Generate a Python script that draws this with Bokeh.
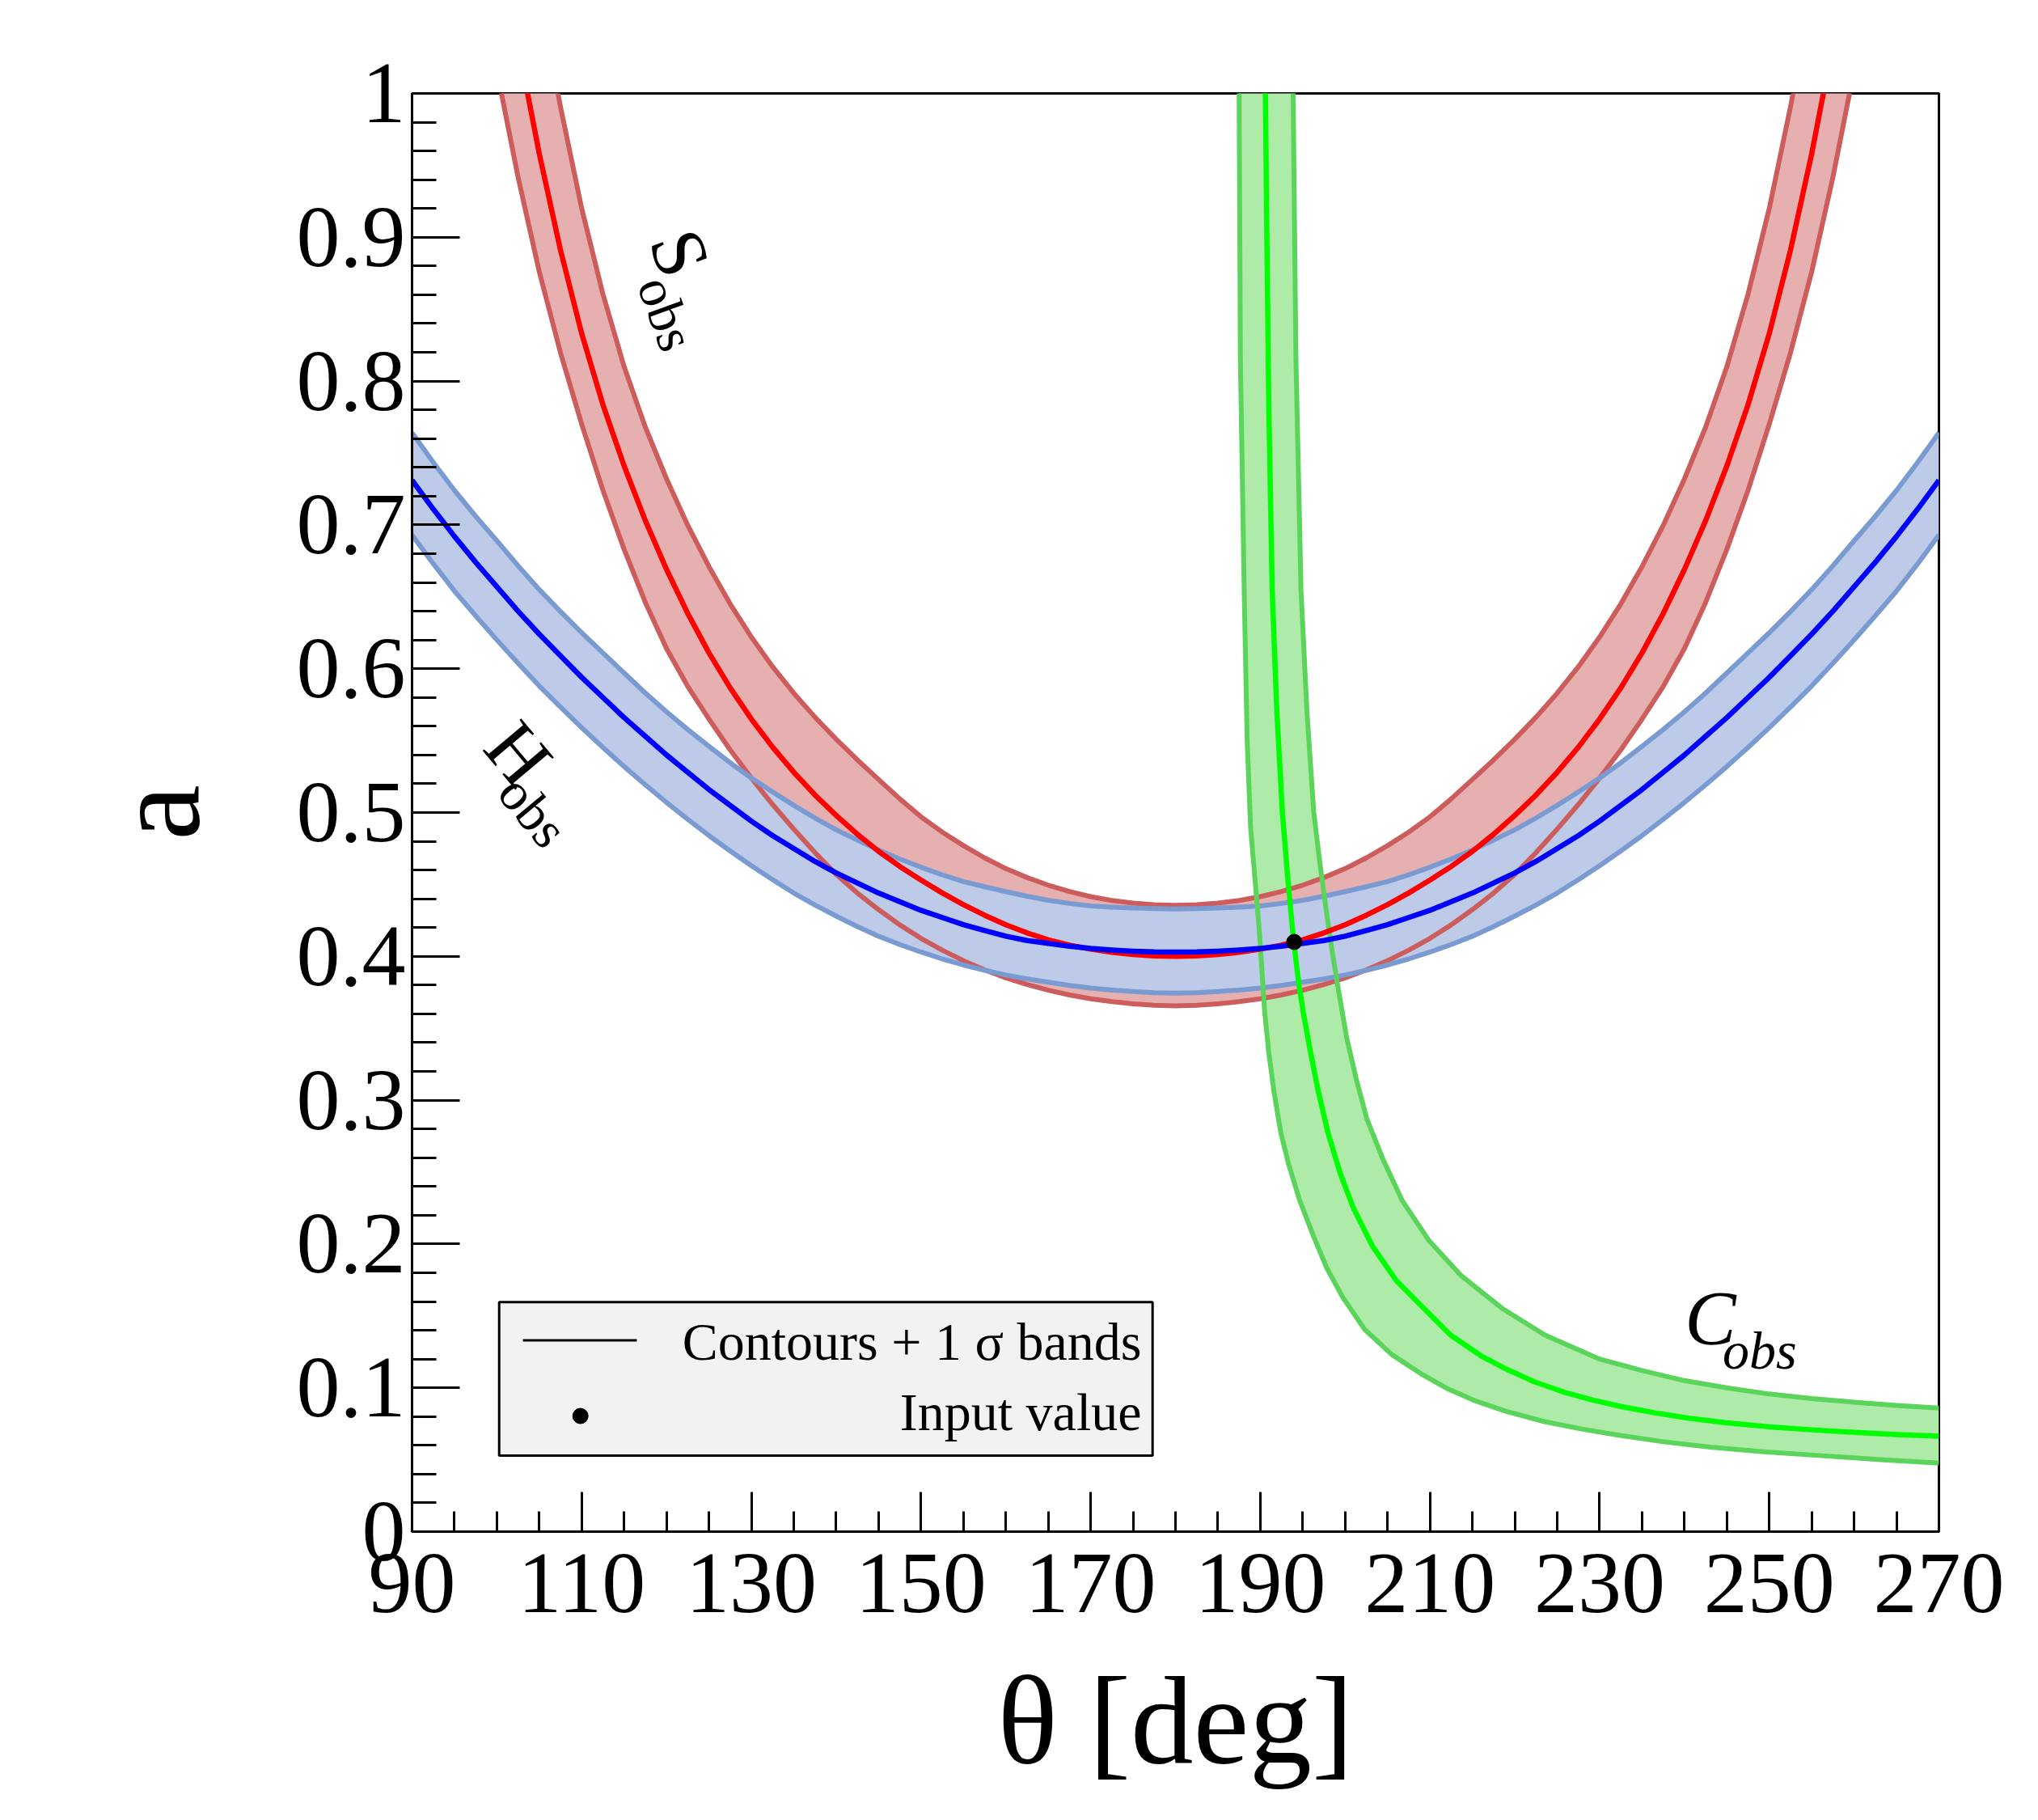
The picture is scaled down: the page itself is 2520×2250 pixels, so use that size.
from bokeh.plotting import figure
from bokeh.models import FixedTicker, CustomJSTickFormatter, Range1d
from bokeh.core.properties import value
from bokeh.embed import file_html
from bokeh.resources import INLINE

# ---------------- data ----------------
# H_obs contour (blue) with its 1 sigma band
BLUE_THETA = [90, 92.5, 95, 97.5, 100, 102.5, 105, 107.5, 110, 112.5, 115, 117.5, 120, 122.5, 125, 127.5,
              130, 132.5, 135, 137.5, 140, 142.5, 145, 147.5, 150, 152.5, 155, 157.5, 160, 162.5, 165, 167.5,
              170, 172.5, 175, 177.5, 180, 182.5, 185, 187.5, 190, 192.5, 195, 197.5, 200, 202.5, 205, 207.5,
              210, 212.5, 215, 217.5, 220, 222.5, 225, 227.5, 230, 232.5, 235, 237.5, 240, 242.5, 245, 247.5,
              250, 252.5, 255, 257.5, 260, 262.5, 265, 267.5, 270]
BLUE_A_LEFT = [0.731, 0.711, 0.692, 0.674, 0.657, 0.640, 0.624, 0.609, 0.594, 0.580, 0.566, 0.553, 0.540,
               0.528, 0.516, 0.505, 0.494, 0.484, 0.475, 0.466, 0.458, 0.451, 0.444, 0.438, 0.432, 0.427,
               0.422, 0.418, 0.414, 0.411, 0.409, 0.407, 0.4055, 0.4044, 0.4036, 0.4031, 0.403]
BLUE_A_RIGHT = [0.4031, 0.4036, 0.4044, 0.4055, 0.407, 0.409, 0.411, 0.414, 0.418, 0.422, 0.427, 0.432,
                0.438, 0.444, 0.451, 0.458, 0.466, 0.475, 0.484, 0.494, 0.505, 0.516, 0.528, 0.540, 0.553,
                0.566, 0.580, 0.594, 0.609, 0.624, 0.640, 0.657, 0.674, 0.692, 0.711, 0.731]
BLUE_HI_LEFT = [0.764, 0.7435, 0.724, 0.706, 0.689, 0.6716, 0.655, 0.6397, 0.625, 0.611, 0.597, 0.5831, 0.570,
                0.5577, 0.546, 0.5346, 0.524, 0.5143, 0.505, 0.4962, 0.488, 0.4808, 0.474, 0.4677, 0.462,
                0.4567, 0.452, 0.4484, 0.445, 0.4418, 0.439, 0.4368, 0.435, 0.4342, 0.4336, 0.4332, 0.433]
BLUE_HI_RIGHT = [0.4332, 0.4336, 0.4342, 0.435, 0.4368, 0.439, 0.4418, 0.445, 0.4484, 0.452, 0.4567, 0.462,
                 0.4677, 0.474, 0.4808, 0.488, 0.4962, 0.505, 0.5143, 0.524, 0.5346, 0.546, 0.5577, 0.570,
                 0.5831, 0.597, 0.611, 0.625, 0.6397, 0.655, 0.6716, 0.689, 0.706, 0.724, 0.7435, 0.764]
BLUE_LO_LEFT = [0.693, 0.673, 0.654, 0.6368, 0.620, 0.6038, 0.588, 0.5733, 0.559, 0.5453, 0.532, 0.5193,
                0.507, 0.4953, 0.484, 0.4733, 0.463, 0.4533, 0.444, 0.4357, 0.428, 0.4207, 0.414, 0.4082,
                0.403, 0.3982, 0.394, 0.3903, 0.387, 0.3843, 0.382, 0.3798, 0.378, 0.3766, 0.3755, 0.3747,
                0.3745]
BLUE_LO_RIGHT = [0.3747, 0.3755, 0.3766, 0.378, 0.3798, 0.382, 0.3843, 0.387, 0.3903, 0.394, 0.3982, 0.403,
                 0.4082, 0.414, 0.4207, 0.428, 0.4357, 0.444, 0.4533, 0.463, 0.4733, 0.484, 0.4953, 0.507,
                 0.5193, 0.532, 0.5453, 0.559, 0.5733, 0.588, 0.6038, 0.620, 0.6368, 0.654, 0.673, 0.693]

# S_obs contour (red) with its 1 sigma band
RED_THETA = [100, 102.5, 105, 107.5, 110, 112.5, 115, 117.5, 120, 122.5, 125, 127.5, 130, 132.5, 135, 137.5,
             140, 142.5, 145, 147.5, 150, 152.5, 155, 157.5, 160, 162.5, 165, 167.5, 170, 172.5, 175, 177.5,
             180, 182.5, 185, 187.5, 190, 192.5, 195, 197.5, 200, 202.5, 205, 207.5, 210, 212.5, 215, 217.5,
             220, 222.5, 225, 227.5, 230, 232.5, 235, 237.5, 240, 242.5, 245, 247.5, 250, 252.5, 255, 257.5, 260]
RED_A_LEFT = [1.12, 1.034, 0.958, 0.891, 0.833, 0.7836, 0.741, 0.703, 0.669, 0.6384, 0.611, 0.5867, 0.565,
              0.5455, 0.528, 0.5122, 0.498, 0.4849, 0.473, 0.4625, 0.453, 0.4441, 0.436, 0.4286, 0.422,
              0.4163, 0.4115, 0.4078, 0.405, 0.4028, 0.4013, 0.4003, 0.400]
RED_A_RIGHT = [0.4003, 0.4013, 0.4028, 0.405, 0.4078, 0.4115, 0.4163, 0.422, 0.4286, 0.436, 0.4441, 0.453,
               0.4625, 0.473, 0.4849, 0.498, 0.5122, 0.528, 0.5455, 0.565, 0.5867, 0.611, 0.6384, 0.669,
               0.703, 0.741, 0.7836, 0.833, 0.891, 0.958, 1.034, 1.12]
RED_HI_LEFT = [1.25, 1.156, 1.07, 0.9906, 0.92, 0.8605, 0.81, 0.768, 0.732, 0.6997, 0.671, 0.6451, 0.622,
               0.6014, 0.583, 0.5663, 0.551, 0.5366, 0.523, 0.5095, 0.497, 0.4864, 0.477, 0.4685, 0.461,
               0.4548, 0.4495, 0.4451, 0.4415, 0.4388, 0.437, 0.4359, 0.4355]
RED_HI_RIGHT = [0.4359, 0.437, 0.4388, 0.4415, 0.4451, 0.4495, 0.4548, 0.461, 0.4685, 0.477, 0.4864, 0.497,
                0.5095, 0.523, 0.5366, 0.551, 0.5663, 0.583, 0.6014, 0.622, 0.6451, 0.671, 0.6997, 0.732,
                0.768, 0.81, 0.8605, 0.92, 0.9906, 1.07, 1.156, 1.25]
RED_LO_LEFT = [1.016, 0.9417, 0.876, 0.8197, 0.770, 0.7241, 0.683, 0.6461, 0.614, 0.5877, 0.565, 0.5436,
               0.524, 0.5056, 0.4885, 0.4721, 0.457, 0.444, 0.4325, 0.4219, 0.4125, 0.4043, 0.397, 0.3906,
               0.385, 0.3804, 0.3765, 0.3732, 0.3705, 0.3685, 0.367, 0.366, 0.3656]
RED_LO_RIGHT = [0.366, 0.367, 0.3685, 0.3705, 0.3732, 0.3765, 0.3804, 0.385, 0.3906, 0.397, 0.4043, 0.4125,
                0.4219, 0.4325, 0.444, 0.457, 0.4721, 0.4885, 0.5056, 0.524, 0.5436, 0.565, 0.5877, 0.614,
                0.6461, 0.683, 0.7241, 0.770, 0.8197, 0.876, 0.9417, 1.016]

# C_obs contour (green) with its 1 sigma band
GREEN_THETA = [190.55, 190.6, 190.75, 191.0, 191.4, 191.95, 192.6, 193.3, 193.94, 194.55, 195.05, 195.91,
               196.86, 197.98, 199.41, 200.99, 203.22, 206.08, 209.26, 212.43, 216.0, 219.0, 222.3, 225.8,
               229.2, 232.6, 236.5, 240.5, 245.0, 250.0, 255.0, 260.5, 265.0, 270]
GREEN_A = [1.05, 1.0, 0.912, 0.783, 0.654, 0.57, 0.50, 0.45, 0.41, 0.3804, 0.3616, 0.3335,
           0.3054, 0.2773, 0.2492, 0.2248, 0.1985, 0.1742, 0.1554, 0.1367, 0.1223, 0.113, 0.1042, 0.097,
           0.0915, 0.0869, 0.0826, 0.0789, 0.0757, 0.0729, 0.0708, 0.0689, 0.0675, 0.0663]
GREEN_HI_THETA = [193.85, 193.87, 194.2, 194.8, 195.5, 196.3, 197.0, 197.7, 198.4, 199.2, 200.2, 201.31,
                  202.58, 204.49, 206.71, 209.89, 213.7, 218.47, 223.56, 230, 235, 240, 245, 250, 255, 260,
                  265, 270]
GREEN_HI_A = [1.05, 1.0, 0.815, 0.654, 0.57, 0.50, 0.466, 0.435, 0.406, 0.377, 0.3428, 0.3147,
              0.2866, 0.2585, 0.2304, 0.2023, 0.1779, 0.1554, 0.1367, 0.120, 0.112, 0.105, 0.100, 0.0957,
              0.0925, 0.090, 0.0878, 0.0859]
GREEN_LO_THETA = [187.45, 187.5, 187.65, 188.1, 188.45, 188.85, 189.88, 190.51, 190.99, 191.62, 192.42,
                  193.37, 194.64, 196.23, 197.82, 199.72, 202.3, 205.5, 208.9, 212.0, 215.1, 219.0, 223.5,
                  228.0, 232.5, 237.5, 243.0, 249.0, 256.2, 263.0, 270]
GREEN_LO_A = [1.05, 1.0, 0.815, 0.654, 0.55, 0.49, 0.4179, 0.3616, 0.3335, 0.3054, 0.2773,
              0.2548, 0.2304, 0.206, 0.1835, 0.1629, 0.1406, 0.1231, 0.1099, 0.0996, 0.0915, 0.0836, 0.0765,
              0.0712, 0.0668, 0.0625, 0.0588, 0.0557, 0.0528, 0.0501, 0.0476]

# input value
INPUT_THETA = [194.0]
INPUT_A = [0.41]

X_MAJOR = [90, 110, 130, 150, 170, 190, 210, 230, 250, 270]
X_MINOR = [90, 95, 100, 105, 110, 115, 120, 125, 130, 135, 140, 145, 150, 155, 160, 165, 170, 175, 180,
           185, 190, 195, 200, 205, 210, 215, 220, 225, 230, 235, 240, 245, 250, 255, 260, 265, 270]
Y_MAJOR = [0.0, 0.1, 0.2, 0.3, 0.4, 0.5, 0.6, 0.7, 0.8, 0.9, 1.0]
Y_MINOR = [0.0, 0.02, 0.04, 0.06, 0.08, 0.1, 0.12, 0.14, 0.16, 0.18, 0.2, 0.22, 0.24, 0.26, 0.28, 0.3, 0.32,
           0.34, 0.36, 0.38, 0.4, 0.42, 0.44, 0.46, 0.48, 0.5, 0.52, 0.54, 0.56, 0.58, 0.6, 0.62, 0.64, 0.66,
           0.68, 0.7, 0.72, 0.74, 0.76, 0.78, 0.8, 0.82, 0.84, 0.86, 0.88, 0.9, 0.92, 0.94, 0.96, 0.98, 1.0]

BLUE_A = BLUE_A_LEFT + BLUE_A_RIGHT
BLUE_HI = BLUE_HI_LEFT + BLUE_HI_RIGHT
BLUE_LO = BLUE_LO_LEFT + BLUE_LO_RIGHT
RED_A = RED_A_LEFT + RED_A_RIGHT
RED_HI = RED_HI_LEFT + RED_HI_RIGHT
RED_LO = RED_LO_LEFT + RED_LO_RIGHT

# ---------------- styling / layout ----------------
FONT = "Liberation Serif"
RED_FILL, RED_EDGE, RED_LINE = "#e6b0b0", "#cd5c5c", "#ff0000"
BLUE_FILL, BLUE_EDGE, BLUE_LINE = "#bdcbe8", "#7a9ad2", "#0000ff"
GREEN_FILL, GREEN_EDGE, GREEN_LINE = "#aeeaa8", "#5ad45a", "#00ff00"

p = figure(width=2504, height=2242, output_backend="svg", toolbar_location=None,
           x_range=Range1d(90, 270), y_range=Range1d(0, 1),
           min_border_left=509, min_border_right=107, min_border_top=115, min_border_bottom=349)
p.xgrid.visible = False
p.ygrid.visible = False
p.outline_line_color = "black"
p.outline_line_width = 3
p.background_fill_color = "white"
p.border_fill_color = "white"

for ax in (p.xaxis[0], p.yaxis[0]):
    ax.axis_line_width = 3
    ax.major_tick_line_width = 3
    ax.minor_tick_line_width = 3
    ax.major_tick_out = 0
    ax.minor_tick_out = 0
    ax.major_label_text_font = FONT
    ax.major_label_text_font_size = "108px"
    ax.major_label_text_color = "black"
    ax.axis_label_text_font = FONT
    ax.axis_label_text_font_size = "155px"
    ax.axis_label_text_font_style = "normal"
    ax.axis_label_text_color = "black"

xa = p.xaxis[0]
xa.ticker = FixedTicker(ticks=X_MAJOR, minor_ticks=X_MINOR)
xa.major_tick_in = 49
xa.minor_tick_in = 25
xa.major_label_standoff = 28
xa.axis_label = "θ [deg]"
xa.axis_label_standoff = 45

ya = p.yaxis[0]
ya.ticker = FixedTicker(ticks=Y_MAJOR, minor_ticks=Y_MINOR)
ya.formatter = CustomJSTickFormatter(code="return Number(tick.toFixed(1)).toString();")
ya.major_tick_in = 59
ya.minor_tick_in = 30
ya.major_label_standoff = 8
ya.axis_label = "a"
ya.axis_label_standoff = 85

# band fills
p.patch(GREEN_HI_THETA + GREEN_LO_THETA[::-1], GREEN_HI_A + GREEN_LO_A[::-1],
        fill_color=GREEN_FILL, line_color=None)
p.patch(RED_THETA + RED_THETA[::-1], RED_HI + RED_LO[::-1], fill_color=RED_FILL, line_color=None)
p.patch(BLUE_THETA + BLUE_THETA[::-1], BLUE_HI + BLUE_LO[::-1], fill_color=BLUE_FILL, line_color=None)

# band edges
EW = 6
for xs, ys, col in ((RED_THETA, RED_HI, RED_EDGE), (RED_THETA, RED_LO, RED_EDGE),
                    (BLUE_THETA, BLUE_HI, BLUE_EDGE), (BLUE_THETA, BLUE_LO, BLUE_EDGE),
                    (GREEN_HI_THETA, GREEN_HI_A, GREEN_EDGE), (GREEN_LO_THETA, GREEN_LO_A, GREEN_EDGE)):
    p.line(xs, ys, line_color=col, line_width=EW, line_join="round")

# central contours
CW = 6.5
p.line(RED_THETA, RED_A, line_color=RED_LINE, line_width=CW, line_join="round")
p.line(BLUE_THETA, BLUE_A, line_color=BLUE_LINE, line_width=CW, line_join="round")
p.line(GREEN_THETA, GREEN_A, line_color=GREEN_LINE, line_width=CW, line_join="round")

# input value
p.scatter(INPUT_THETA, INPUT_A, size=19, marker="circle", fill_color="black", line_color="black")


def label(x, y, txt, size, angle=0, align="center", baseline="middle", style="normal"):
    p.text(x=[x], y=[y], text=[txt], angle=angle, angle_units="deg",
           text_font=value(FONT), text_font_size=value(size), text_font_style=style,
           text_align=align, text_baseline=baseline, text_color="black")


# curve labels
label(121.6, 0.889, "S", "95px", angle=-70)
label(120.0, 0.847, "obs", "66px", angle=-70)
label(102.6, 0.541, "H", "95px", angle=-50)
label(104.3, 0.501, "obs", "66px", angle=-50)
label(240.05, 0.148, "C", "95px", align="left", baseline="alphabetic", style="italic")
label(244.5, 0.126, "obs", "66px", align="left", baseline="alphabetic", style="italic")

# legend box
LEG_L, LEG_R, LEG_B, LEG_T = 100.27, 177.3, 0.0528, 0.1596
p.quad(left=[LEG_L], right=[LEG_R], bottom=[LEG_B], top=[LEG_T],
       fill_color="#f2f2f2", line_color="black", line_width=3)
p.line([103.07, 116.5], [0.133, 0.133], line_color="black", line_width=3)
p.scatter([109.85], [0.0804], size=19, marker="circle", fill_color="black", line_color="black")
label(176.0, 0.132, "Contours + 1 σ bands", "66px", align="right", baseline="alphabetic")
label(176.0, 0.083, "Input value", "66px", align="right", baseline="alphabetic")

open("out.html", "w").write(file_html(p, INLINE))
